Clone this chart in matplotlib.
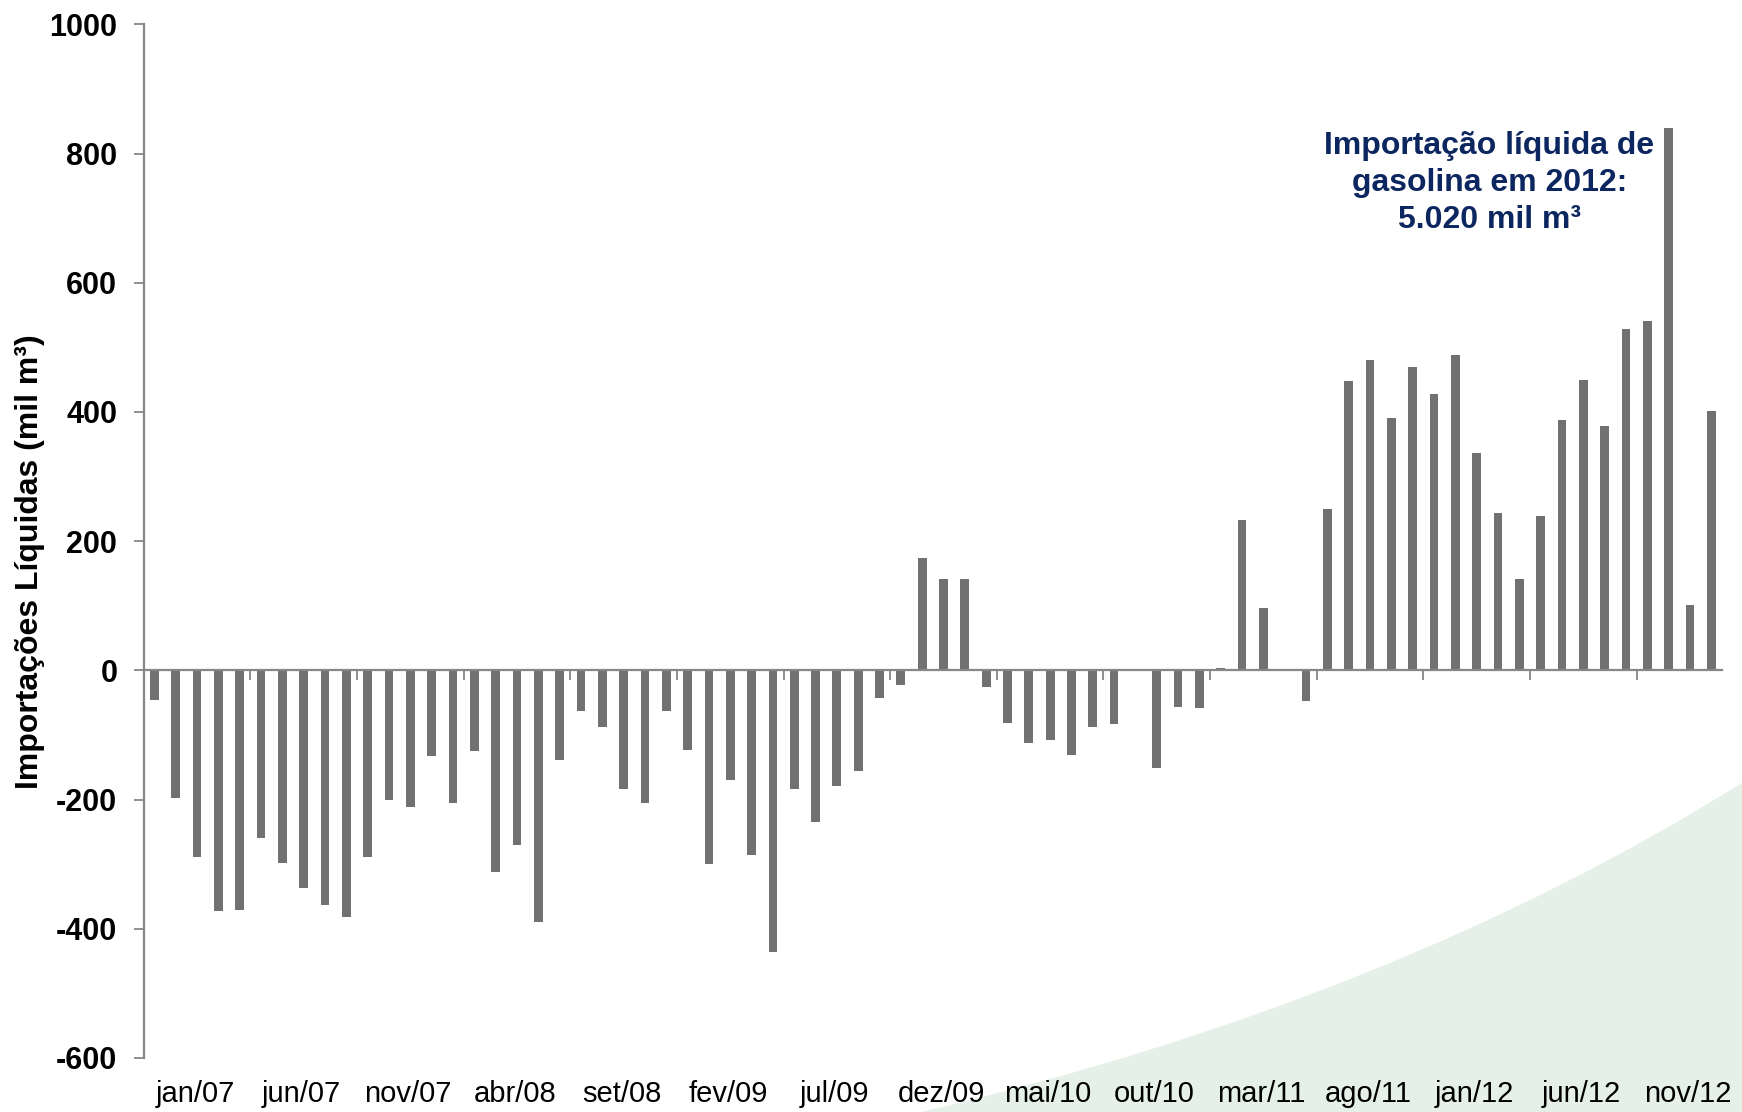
import numpy as np
import matplotlib.pyplot as plt
from matplotlib.path import Path
from matplotlib.patches import PathPatch
import matplotlib.transforms as mtransforms

plt.rcParams['font.family'] = ['Liberation Sans', 'DejaVu Sans']
plt.rcParams['axes.unicode_minus'] = False

# importacoes liquidas mensais de gasolina (mil m3)
net_imports = [-46, -198, -289, -372, -371, -259, -298, -337, -363, -382,
               -289, -200, -212, -132, -206, -125, -312, -271, -390, -138,
               -63, -88, -184, -206, -63, -124, -299, -169, -286, -436,
               -183, -234, -179, -156, -43, -22, 174, 142, 141, -25,
               -81, -112, -108, -131, -88, -83, 0, -151, -56, -58,
               3, 232, 96, 0, -48, 250, 448, 481, 391, 469,
               428, 488, 336, 243, 142, 239, 388, 450, 379, 529,
               541, 840, 101, 402]

tick_labels = ['jan/07', 'jun/07', 'nov/07', 'abr/08', 'set/08', 'fev/09',
               'jul/09', 'dez/09', 'mai/10', 'out/10', 'mar/11', 'ago/11',
               'jan/12', 'jun/12', 'nov/12']

note = 'Importação líquida de\ngasolina em 2012:\n5.020 mil m³'

x = np.arange(len(net_imports))
label_pos = np.arange(len(tick_labels)) * 5 + 1.9

fig = plt.figure(figsize=(17.42, 11.12), dpi=100)

ax = fig.add_axes([0.0825, 0.0486, 0.906, 0.9295])
ax.set_facecolor('none')

# faixa verde clara no canto inferior direito (fundo do slide)
verts = [(0.529, 0.0), (0.80, 0.10), (1.0, 0.296), (1.0, 0.0), (0.529, 0.0)]
codes = [Path.MOVETO, Path.CURVE3, Path.CURVE3, Path.LINETO, Path.CLOSEPOLY]
ax.add_patch(PathPatch(Path(verts, codes), transform=fig.transFigure,
                       facecolor='#e5f1e8', edgecolor='none', zorder=0,
                       clip_on=False))

ax.bar(x, net_imports, width=0.41, color='#717171', zorder=3)

ax.set_xlim(-0.5, len(net_imports) - 0.5)
ax.set_ylim(-600, 1000)
ax.set_yticks(range(-600, 1001, 200))

grey = '#878787'
for s in ['top', 'right']:
    ax.spines[s].set_visible(False)
ax.spines['bottom'].set_position(('data', 0))
for s in ['left', 'bottom']:
    ax.spines[s].set_color(grey)
    ax.spines[s].set_linewidth(1.6)
    ax.spines[s].set_zorder(4)

ax.set_xticks(np.arange(-0.5, len(net_imports), 5))
ax.set_xticklabels([])
ax.tick_params(axis='x', direction='out', length=7, width=1.3, color=grey)
ax.tick_params(axis='y', direction='out', length=7, width=1.3, color=grey,
               labelsize=22, pad=12)
for lab in ax.get_yticklabels():
    lab.set_fontweight('bold')

trans = mtransforms.blended_transform_factory(ax.transData, ax.transAxes)
for pos, lab in zip(label_pos, tick_labels):
    ax.text(pos, -0.035, lab, transform=trans, ha='center', va='center',
            fontsize=21, zorder=5)

ax.set_ylabel('Importações Líquidas (mil m³)', fontsize=23, fontweight='bold')
ax.yaxis.set_label_coords(-0.072, 0.48)
ax.yaxis.label.set_va('center')

ax.text(62.6, 754, note, ha='center', va='center', multialignment='center',
        fontsize=23, fontweight='bold', color='#0c2660', linespacing=1.3,
        zorder=5)

fig.savefig('out.png', dpi=100)
